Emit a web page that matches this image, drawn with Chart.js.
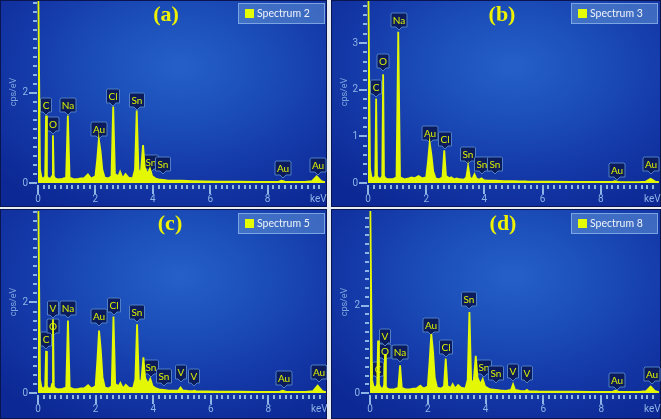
<!DOCTYPE html>
<html>
<head>
<meta charset="utf-8">
<script src="https://cdn.jsdelivr.net/npm/chart.js@4.4.1/dist/chart.umd.min.js"></script>
<style>
  html, body { margin: 0; padding: 0; background: #e8edf3; }
  #wrap { position: relative; width: 661px; height: 419px; overflow: hidden; background: #e8edf3; }
  .panel {
    position: absolute;
    background: radial-gradient(ellipse 75% 80% at 55% 32%, #2560c8 0%, #1b4db8 35%, #1439a8 65%, #0c2894 100%);
    box-shadow: inset 0 0 0 1px #0a1550;
  }
  canvas { display: block; }
</style>
</head>
<body>
<div id="wrap">
  <div class="panel" style="left:0;top:0;width:327px;height:207px"><canvas id="ca" width="327" height="207"></canvas></div>
  <div class="panel" style="left:331px;top:0;width:330px;height:207px"><canvas id="cb" width="330" height="207"></canvas></div>
  <div class="panel" style="left:0;top:209px;width:327px;height:210px"><canvas id="cc" width="327" height="210"></canvas></div>
  <div class="panel" style="left:331px;top:209px;width:330px;height:210px"><canvas id="cd" width="330" height="210"></canvas></div>
</div>
<script>
// energia (keV), sama untuk keempat spektrum
const energy = [0, 0.03, 0.07, 0.12, 0.2, 0.25, 0.28, 0.31, 0.36, 0.45,
  0.49, 0.52, 0.55, 0.6, 0.7, 0.85, 0.98, 1.04, 1.1, 1.25,
  1.4, 1.5, 1.6, 1.74, 1.85, 2.0, 2.06, 2.12, 2.18, 2.24,
  2.32, 2.45, 2.56, 2.62, 2.68, 2.8, 2.86, 2.95, 3.05, 3.15,
  3.3, 3.38, 3.44, 3.5, 3.58, 3.66, 3.72, 3.82, 3.9, 3.98,
  4.1, 4.2, 4.35, 4.5, 4.7, 4.88, 4.95, 5.02, 5.2, 5.38,
  5.43, 5.48, 5.8, 6.3, 7.0, 7.6, 8.2, 8.4, 8.49, 8.6,
  8.9, 9.3, 9.55, 9.71, 9.87, 10.0];

// cps/eV tiap spektrum
const countsA = [5, 5, 0.3, 0.12, 0.1, 0.15, 1.5, 0.15, 0.1, 0.1,
  0.15, 1.06, 0.15, 0.1, 0.08, 0.09, 0.12, 1.5, 0.12, 0.08,
  0.09, 0.1, 0.1, 0.19, 0.1, 0.15, 0.5, 0.96, 0.7, 0.3,
  0.12, 0.1, 0.15, 1.7, 0.2, 0.15, 0.25, 0.1, 0.2, 0.12,
  0.1, 0.3, 1.61, 0.3, 0.2, 0.84, 0.35, 0.2, 0.32, 0.15,
  0.1, 0.08, 0.07, 0.06, 0.05, 0.05, 0.05, 0.05, 0.045, 0.04,
  0.04, 0.04, 0.035, 0.03, 0.03, 0.025, 0.025, 0.03, 0.05, 0.03,
  0.025, 0.025, 0.04, 0.15, 0.04, 0.02];
const countsB = [5, 5, 0.3, 0.12, 0.1, 0.15, 1.81, 0.15, 0.1, 0.1,
  0.15, 2.33, 0.15, 0.1, 0.08, 0.08, 0.12, 3.24, 0.12, 0.08,
  0.1, 0.12, 0.1, 0.15, 0.1, 0.12, 0.45, 0.86, 0.6, 0.25,
  0.1, 0.08, 0.12, 0.7, 0.15, 0.1, 0.12, 0.08, 0.1, 0.08,
  0.07, 0.12, 0.36, 0.12, 0.08, 0.19, 0.1, 0.07, 0.1, 0.06,
  0.05, 0.05, 0.05, 0.045, 0.04, 0.04, 0.04, 0.04, 0.035, 0.035,
  0.035, 0.03, 0.03, 0.03, 0.025, 0.025, 0.025, 0.025, 0.04, 0.025,
  0.02, 0.02, 0.03, 0.09, 0.03, 0.02];
const countsC = [5, 5, 0.3, 0.12, 0.1, 0.15, 0.93, 0.15, 0.1, 0.1,
  0.2, 1.63, 0.15, 0.1, 0.08, 0.09, 0.12, 1.6, 0.12, 0.08,
  0.09, 0.1, 0.1, 0.17, 0.1, 0.15, 0.7, 1.38, 0.95, 0.35,
  0.12, 0.1, 0.15, 1.69, 0.2, 0.15, 0.22, 0.1, 0.18, 0.12,
  0.1, 0.3, 1.52, 0.3, 0.2, 0.79, 0.33, 0.2, 0.31, 0.15,
  0.1, 0.08, 0.07, 0.06, 0.05, 0.06, 0.12, 0.06, 0.045, 0.04,
  0.05, 0.04, 0.035, 0.03, 0.03, 0.025, 0.025, 0.03, 0.05, 0.03,
  0.025, 0.025, 0.04, 0.16, 0.04, 0.02];
const countsD = [5, 5, 0.3, 0.15, 0.12, 0.2, 1.2, 0.2, 0.12, 0.1,
  0.18, 0.89, 0.15, 0.1, 0.08, 0.09, 0.12, 0.63, 0.12, 0.08,
  0.09, 0.1, 0.1, 0.17, 0.1, 0.15, 0.7, 1.35, 0.95, 0.35,
  0.12, 0.1, 0.15, 0.79, 0.15, 0.12, 0.2, 0.1, 0.18, 0.12,
  0.1, 0.3, 1.85, 0.3, 0.2, 0.85, 0.35, 0.2, 0.32, 0.15,
  0.1, 0.08, 0.07, 0.06, 0.05, 0.07, 0.2, 0.07, 0.05, 0.045,
  0.07, 0.045, 0.035, 0.03, 0.03, 0.025, 0.025, 0.03, 0.05, 0.03,
  0.025, 0.025, 0.04, 0.15, 0.04, 0.02];

// label sumbu
const xTickVals = [0, 2, 4, 6, 8];
const keVPos = 9.77;
const yTicksA = [0, 2];
const yTicksB = [0, 1, 2, 3];
const yTicksC = [0, 2];
const yTicksD = [0, 2];

// label puncak: nama unsur, posisi (keV), ujung penunjuk (cps/eV)
const peakNamesA = ['C', 'O', 'Na', 'Au', 'Cl', 'Sn', 'Sn', 'Sn', 'Au', 'Au'];
const peakKevA   = [0.28, 0.52, 1.04, 2.12, 2.63, 3.44, 3.93, 4.37, 8.54, 9.76];
const peakTipA   = [1.52, 1.08, 1.52, 0.98, 1.72, 1.63, 0.25, 0.2, 0.1, 0.17];
const peakNamesB = ['C', 'O', 'Na', 'Au', 'Cl', 'Sn', 'Sn', 'Sn', 'Au', 'Au'];
const peakKevB   = [0.29, 0.53, 1.05, 2.14, 2.64, 3.45, 3.93, 4.38, 8.54, 9.74];
const peakTipB   = [1.84, 2.4, 3.27, 0.86, 0.72, 0.4, 0.2, 0.2, 0.07, 0.2];
const peakNamesC = ['C', 'O', 'V', 'Na', 'Au', 'Cl', 'Sn', 'Sn', 'Sn', 'V', 'V', 'Au', 'Au'];
const peakKevC   = [0.28, 0.53, 0.51, 1.04, 2.12, 2.63, 3.44, 3.93, 4.37, 4.96, 5.42, 8.54, 9.76];
const peakTipC   = [0.97, 1.27, 1.65, 1.65, 1.49, 1.72, 1.56, 0.35, 0.16, 0.24, 0.16, 0.1, 0.24];
const peakNamesD = ['C', 'O', 'V', 'Na', 'Au', 'Cl', 'Sn', 'Sn', 'Sn', 'V', 'V', 'Au', 'Au'];
const peakKevD   = [0.28, 0.53, 0.51, 1.04, 2.12, 2.63, 3.44, 3.93, 4.37, 4.96, 5.42, 8.54, 9.76];
const peakTipD   = [0.32, 0.74, 1.08, 0.7, 1.33, 0.82, 1.92, 0.36, 0.24, 0.28, 0.24, 0.07, 0.2];

const YELLOW = '#e4f704';
const AXIS = '#8fb4e6';

// label unsur di atas puncak (digambar sebelum spektrum)
const peakLabels = {
  id: 'peakLabels',
  beforeDatasetsDraw(chart, args, opts) {
    const { ctx, scales: { x, y } } = chart;
    ctx.save();
    ctx.font = '10px Lato';
    ctx.textAlign = 'center';
    ctx.textBaseline = 'middle';
    opts.names.forEach((name, i) => {
      const px = Math.round(x.getPixelForValue(opts.kev[i]));
      const py = Math.round(y.getPixelForValue(opts.tip[i]));
      const w = Math.max(9, Math.round(ctx.measureText(name).width) + 4);
      const h = 14;
      const bx = px - w / 2, by = py - 3 - h;
      ctx.beginPath();
      ctx.moveTo(bx + 1, by);
      ctx.lineTo(bx + w - 1, by);
      ctx.lineTo(bx + w, by + 1);
      ctx.lineTo(bx + w, by + h);
      ctx.lineTo(px + 3, by + h);
      ctx.lineTo(px, py);
      ctx.lineTo(px - 3, by + h);
      ctx.lineTo(bx, by + h);
      ctx.lineTo(bx, by + 1);
      ctx.closePath();
      ctx.fillStyle = '#0b1b5c';
      ctx.fill();
      ctx.strokeStyle = '#4f7fc4';
      ctx.lineWidth = 1;
      ctx.stroke();
      ctx.fillStyle = '#dcf200';
      ctx.fillText(name, px, by + h / 2 + 0.5);
    });
    ctx.restore();
  }
};

// tanda sumbu, legenda, judul panel
const deco = {
  id: 'deco',
  afterDraw(chart, args, opts) {
    const { ctx, chartArea: a, scales: { x, y } } = chart;
    ctx.save();
    ctx.fillStyle = AXIS;
    for (let i = 0; i <= 49; i++) {
      const px = Math.round(x.getPixelForValue(i * 0.2));
      const major = i % 10 === 0;
      ctx.fillRect(px - 1, a.bottom + 2, 2, major ? 9 : 4);
    }
    for (let i = 0; i * 0.2 <= y.max + 1e-9; i++) {
      const v = Math.round(i * 0.2 * 10) / 10;
      const py = Math.round(y.getPixelForValue(v));
      const major = opts.yTicks.includes(v);
      const len = major ? 8 : 4;
      ctx.fillRect(a.left - 1 - len, py - 1, len, 2);
    }
    // legenda
    const lx = opts.legX, ly = opts.legY;
    ctx.fillStyle = 'rgba(96,146,214,0.55)';
    ctx.fillRect(lx, ly, 87, 21);
    ctx.strokeStyle = 'rgba(150,188,236,0.7)';
    ctx.lineWidth = 1;
    ctx.strokeRect(lx + 0.5, ly + 0.5, 86, 20);
    ctx.fillStyle = '#e6ff00';
    ctx.fillRect(lx + 7, ly + 6, 9, 9);
    ctx.fillStyle = '#eef3fa';
    ctx.font = '10.5px Lato';
    ctx.textAlign = 'left';
    ctx.textBaseline = 'middle';
    ctx.fillText(opts.legend, lx + 19, ly + 11);
    // judul (a) (b) ...
    ctx.font = 'bold 22px "Liberation Serif"';
    ctx.textAlign = 'center';
    ctx.fillStyle = '#eef200';
    ctx.fillText(opts.title, opts.titleX, 15);
    ctx.restore();
  }
};

function makeChart(id, counts, yMax, yTicks, names, kev, tip, title, legend, lay) {
  const ctx = document.getElementById(id).getContext('2d');
  return new Chart(ctx, {
    type: 'line',
    data: {
      datasets: [{
        data: energy.map((e, i) => ({ x: e, y: counts[i] })),
        borderColor: YELLOW,
        backgroundColor: YELLOW,
        borderWidth: 1.8,
        fill: 'origin',
        pointRadius: 0,
        tension: 0,
        clip: { left: 3, top: 0, right: 0, bottom: 0 }
      }]
    },
    options: {
      responsive: false,
      animation: false,
      events: [],
      layout: { padding: { top: lay.top, right: lay.right, left: 0, bottom: 0 } },
      plugins: {
        legend: { display: false },
        tooltip: { enabled: false },
        peakLabels: { names, kev, tip },
        deco: { yTicks, title, legend, titleX: lay.titleX, legX: lay.legX, legY: lay.legY }
      },
      scales: {
        x: {
          type: 'linear',
          min: 0,
          max: 10,
          grid: { display: false, drawTicks: false },
          border: { display: false },
          afterBuildTicks: s => { s.ticks = xTickVals.concat([keVPos]).map(v => ({ value: v })); },
          afterFit: s => { s.height = lay.xh; s.paddingLeft = 0; s.paddingRight = 0; },
          ticks: {
            autoSkip: false,
            maxRotation: 0,
            padding: 10,
            color: AXIS,
            font: { family: 'Roboto', size: 10 },
            callback: v => (v === keVPos ? 'keV' : v)
          }
        },
        y: {
          min: 0,
          max: yMax,
          grid: { display: false, drawTicks: false },
          border: { display: false },
          afterBuildTicks: s => { s.ticks = yTicks.map(v => ({ value: v })); },
          afterFit: s => { s.width = lay.left; s.paddingTop = 0; s.paddingBottom = 0; },
          title: {
            display: true,
            text: 'cps/eV',
            color: '#7ea6de',
            font: { family: 'Roboto', size: 9 },
            padding: { top: 8, bottom: 0 }
          },
          ticks: {
            padding: 10,
            color: AXIS,
            font: { family: 'Roboto', size: 10 }
          }
        }
      }
    },
    plugins: [peakLabels, deco]
  });
}

makeChart('ca', countsA, 4.04, yTicksA, peakNamesA, peakKevA, peakTipA, '(a)', 'Spectrum 2',
  { left: 38, right: 2, top: 1, xh: 24, titleX: 166, legX: 238, legY: 3 });
makeChart('cb', countsB, 3.9, yTicksB, peakNamesB, peakKevB, peakTipB, '(b)', 'Spectrum 3',
  { left: 37, right: 2, top: 1, xh: 24, titleX: 171, legX: 240, legY: 3 });
makeChart('cc', countsC, 4.02, yTicksC, peakNamesC, peakKevC, peakTipC, '(c)', 'Spectrum 5',
  { left: 38, right: 1, top: 2, xh: 26, titleX: 170, legX: 238, legY: 4 });
makeChart('cd', countsD, 4.16, yTicksD, peakNamesD, peakKevD, peakTipD, '(d)', 'Spectrum 8',
  { left: 39, right: 2, top: 2, xh: 26, titleX: 172, legX: 240, legY: 4 });
</script>
</body>
</html>
